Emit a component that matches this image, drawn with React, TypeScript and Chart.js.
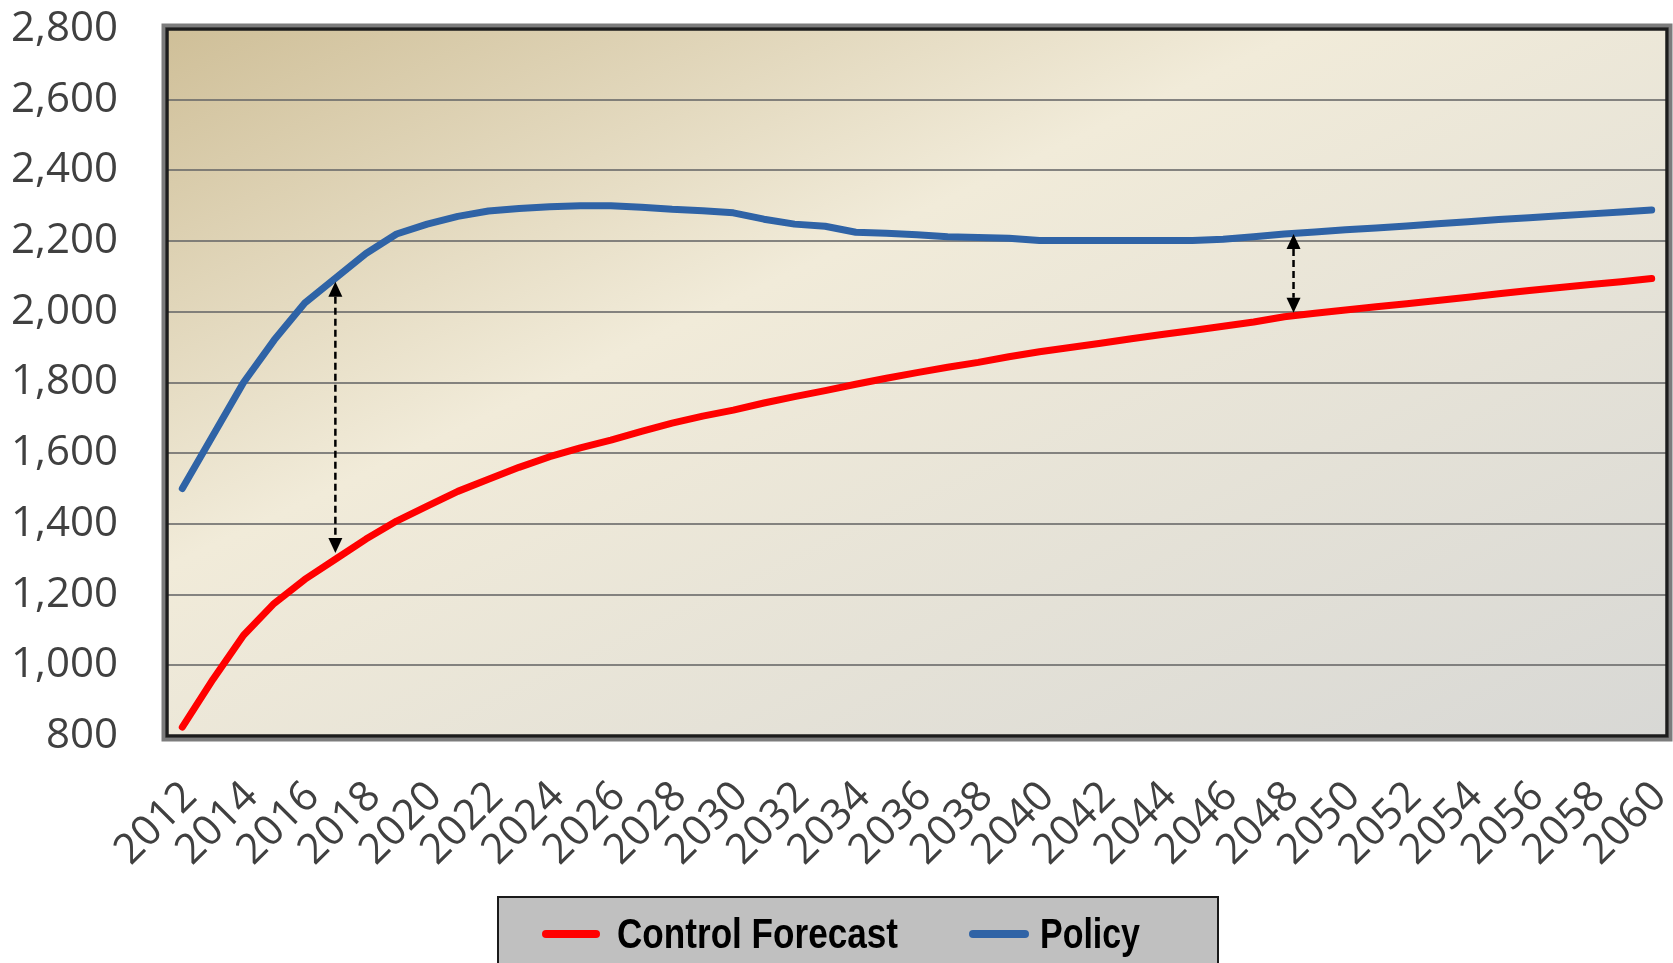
import React, { useEffect, useRef } from "react";
import { Chart, registerables } from "chart.js";

Chart.register(...registerables);

const years = [
  "2012", "2013", "2014", "2015", "2016", "2017", "2018", "2019", "2020", "2021",
  "2022", "2023", "2024", "2025", "2026", "2027", "2028", "2029", "2030", "2031",
  "2032", "2033", "2034", "2035", "2036", "2037", "2038", "2039", "2040", "2041",
  "2042", "2043", "2044", "2045", "2046", "2047", "2048", "2049", "2050", "2051",
  "2052", "2053", "2054", "2055", "2056", "2057", "2058", "2059", "2060",
];

const controlForecast = [
  825, 960, 1085, 1175, 1243, 1300, 1357, 1408, 1450, 1492,
  1526, 1560, 1590, 1615, 1637, 1662, 1685, 1705, 1722, 1742,
  1760, 1777, 1795, 1812, 1828, 1843, 1857, 1873, 1887, 1899,
  1911, 1924, 1936, 1947, 1959, 1971, 1986, 1996, 2005, 2014,
  2023, 2032, 2041, 2051, 2060, 2069, 2077, 2085, 2094,
];

const policy = [
  1500, 1650, 1800, 1920, 2025, 2095, 2165, 2220, 2248, 2270,
  2285, 2292, 2297, 2300, 2300, 2296, 2290, 2286, 2280, 2262,
  2248, 2242, 2225, 2222, 2218, 2212, 2210, 2208, 2202, 2202,
  2202, 2202, 2202, 2202, 2205, 2212, 2220, 2226, 2232, 2237,
  2243, 2249, 2255, 2261, 2266, 2272, 2277, 2282, 2288,
];

const yTickValues = [800, 1000, 1200, 1400, 1600, 1800, 2000, 2200, 2400, 2600, 2800];

const arrowYears = [2017.0, 2048.3];
const arrowTops = [2085, 2220];
const arrowBottoms = [1318, 1997];

const seriesNames = ["Control Forecast", "Policy"];
const seriesColors = ["#ff0000", "#2f63a6"];

const yTickFont = { family: "'Open Sans', 'Noto Sans', sans-serif", size: 42 };
const xTickFont = { family: "'Open Sans', 'Noto Sans', sans-serif", size: 42 };

const bgPlugin = {
  id: "plotBg",
  beforeDraw(chart: any) {
    const { ctx, chartArea: a } = chart;
    const w = a.right - a.left;
    const h = a.bottom - a.top;
    const t = (2 * w * h) / (w * w + h * h);
    const g = ctx.createLinearGradient(a.left, a.top, a.left + h * t, a.top + w * t);
    g.addColorStop(0, "#cfbf98");
    g.addColorStop(0.38, "#f1ebd9");
    g.addColorStop(1, "#d8d8d5");
    ctx.save();
    ctx.fillStyle = g;
    ctx.fillRect(a.left, a.top, w, h);
    ctx.restore();
  },
};

const arrowPlugin = {
  id: "gapArrows",
  afterDatasetsDraw(chart: any) {
    const { ctx, scales } = chart;
    const x = scales.x;
    const y = scales.y;
    const first = Number(years[0]);
    ctx.save();
    arrowYears.forEach((yr, i) => {
      const px = x.getPixelForValue(yr - first);
      const y1 = y.getPixelForValue(arrowTops[i]);
      const y2 = y.getPixelForValue(arrowBottoms[i]);
      const head = 15;
      const hw = 7;
      ctx.strokeStyle = "#000";
      ctx.lineWidth = 2.5;
      ctx.setLineDash([7, 4]);
      ctx.beginPath();
      ctx.moveTo(px, y1 + head);
      ctx.lineTo(px, y2 - head);
      ctx.stroke();
      ctx.setLineDash([]);
      ctx.fillStyle = "#000";
      ctx.beginPath();
      ctx.moveTo(px, y1);
      ctx.lineTo(px - hw, y1 + head);
      ctx.lineTo(px + hw, y1 + head);
      ctx.closePath();
      ctx.fill();
      ctx.beginPath();
      ctx.moveTo(px, y2);
      ctx.lineTo(px - hw, y2 - head);
      ctx.lineTo(px + hw, y2 - head);
      ctx.closePath();
      ctx.fill();
    });
    ctx.restore();
  },
};

const framePlugin = {
  id: "plotFrame",
  afterDatasetsDraw(chart: any) {
    const { ctx, chartArea: a } = chart;
    ctx.save();
    ctx.strokeStyle = "#7c7c7c";
    ctx.lineWidth = 4;
    ctx.strokeRect(a.left - 3.5, a.top - 3.5, a.right - a.left + 7, a.bottom - a.top + 7);
    ctx.strokeStyle = "#1c1c1c";
    ctx.lineWidth = 3.5;
    ctx.strokeRect(a.left, a.top, a.right - a.left, a.bottom - a.top);
    ctx.restore();
  },
};

const legendPlugin = {
  id: "boxLegend",
  afterDraw(chart: any) {
    const { ctx } = chart;
    const boxL = 498;
    const boxT = 897;
    const boxR = 1218;
    const cy = 934;
    ctx.save();
    ctx.fillStyle = "#c0c0c0";
    ctx.fillRect(boxL, boxT, boxR - boxL, 80);
    ctx.strokeStyle = "#1a1a1a";
    ctx.lineWidth = 2;
    ctx.strokeRect(boxL, boxT, boxR - boxL, 80);
    const items = [
      { x0: 546, x1: 596, tx: 617, tw: 281 },
      { x0: 973, x1: 1025, tx: 1040, tw: 100 },
    ];
    chart.data.datasets.forEach((ds: any, i: number) => {
      const it = items[i];
      ctx.strokeStyle = ds.borderColor;
      ctx.lineWidth = 8;
      ctx.lineCap = "round";
      ctx.beginPath();
      ctx.moveTo(it.x0, cy);
      ctx.lineTo(it.x1, cy);
      ctx.stroke();
      ctx.font = "bold 42px 'Liberation Sans Narrow', 'Liberation Sans', Arial, sans-serif";
      ctx.fillStyle = "#000";
      ctx.textBaseline = "middle";
      ctx.textAlign = "left";
      const m = ctx.measureText(ds.label).width;
      ctx.save();
      ctx.translate(it.tx, cy + 2);
      ctx.scale(it.tw / m, 1);
      ctx.fillText(ds.label, 0, 0);
      ctx.restore();
    });
    ctx.restore();
  },
};

const zeroPadding = (s: any) => {
  s.paddingTop = 0;
  s.paddingBottom = 0;
  s.paddingLeft = 0;
  s.paddingRight = 0;
};

export default function App() {
  const canvasRef = useRef<HTMLCanvasElement | null>(null);

  useEffect(() => {
    document.body.style.margin = "0";
    const canvas = canvasRef.current;
    if (!canvas) return;
    const chart = new Chart(canvas, {
      type: "line",
      data: {
        labels: years,
        datasets: [
          {
            label: seriesNames[0],
            data: controlForecast,
            borderColor: seriesColors[0],
            backgroundColor: seriesColors[0],
            borderWidth: 7,
            pointRadius: 0,
            tension: 0,
            borderCapStyle: "round",
            borderJoinStyle: "round",
          },
          {
            label: seriesNames[1],
            data: policy,
            borderColor: seriesColors[1],
            backgroundColor: seriesColors[1],
            borderWidth: 7,
            pointRadius: 0,
            tension: 0,
            borderCapStyle: "round",
            borderJoinStyle: "round",
          },
        ],
      },
      options: {
        responsive: true,
        maintainAspectRatio: false,
        animation: false,
        devicePixelRatio: 1,
        layout: { padding: { top: 29, right: 6, left: 0, bottom: 0 } },
        plugins: {
          legend: { display: false },
          tooltip: { enabled: false },
        },
        scales: {
          x: {
            type: "category",
            offset: true,
            grid: { display: false, drawTicks: false },
            border: { display: false },
            ticks: {
              autoSkip: false,
              maxRotation: 45,
              minRotation: 45,
              padding: 36,
              labelOffset: 8,
              color: "#404040",
              font: xTickFont,
              callback: (_v: any, i: number) => (i % 2 === 0 ? years[i] : null),
            },
            afterFit: (s: any) => {
              s.height = 227;
              zeroPadding(s);
            },
          },
          y: {
            min: yTickValues[0],
            max: yTickValues[yTickValues.length - 1],
            afterBuildTicks: (s: any) => {
              s.ticks = yTickValues.map((v) => ({ value: v }));
            },
            grid: { color: "rgba(105,105,105,0.8)", lineWidth: 2, drawTicks: false },
            border: { display: false },
            ticks: {
              padding: 49,
              color: "#404040",
              font: yTickFont,
              callback: (v: any) => Number(v).toLocaleString("en-US"),
            },
            afterFit: (s: any) => {
              s.width = 167;
              zeroPadding(s);
            },
          },
        },
      },
      plugins: [bgPlugin, arrowPlugin, framePlugin, legendPlugin],
    });
    return () => chart.destroy();
  }, []);

  return (
    <div style={{ width: 1673, height: 963, position: "relative" }}>
      <canvas ref={canvasRef} />
    </div>
  );
}
